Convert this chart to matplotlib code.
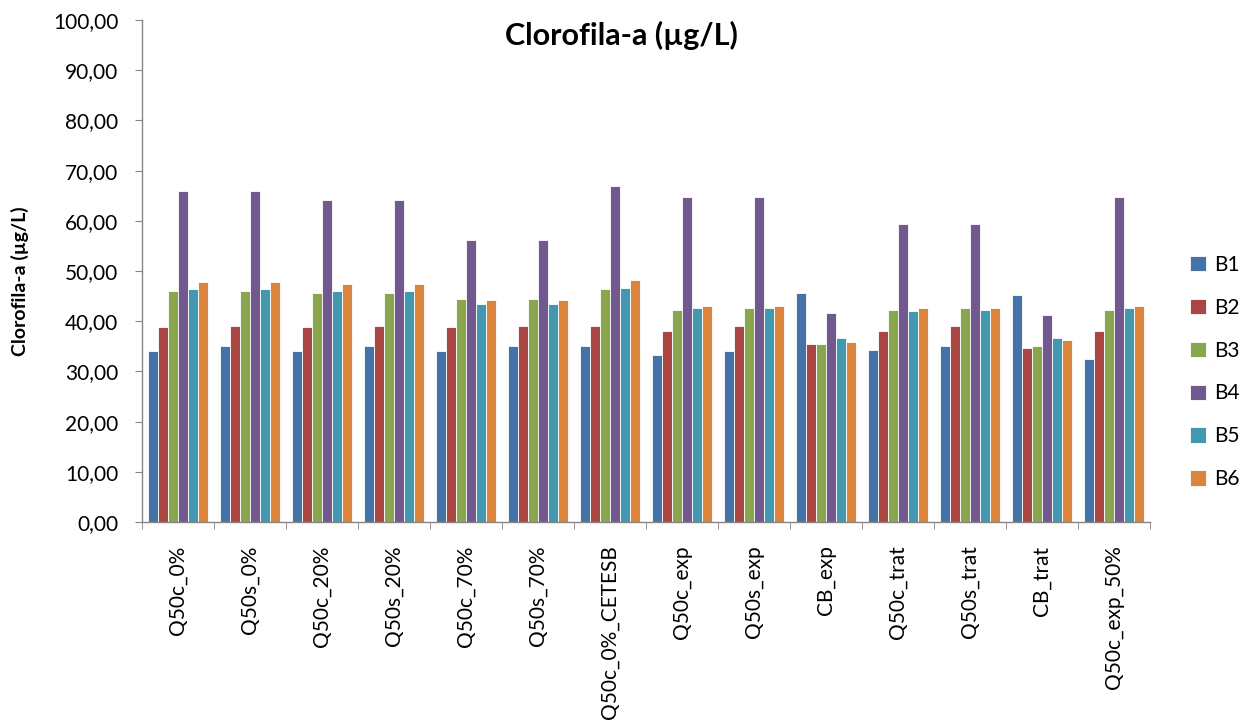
import numpy as np
import matplotlib.pyplot as plt
from matplotlib.ticker import FuncFormatter

plt.rcParams['font.family'] = ['Lato', 'DejaVu Sans']

categories = ['Q50c_0%', 'Q50s_0%', 'Q50c_20%', 'Q50s_20%', 'Q50c_70%', 'Q50s_70%',
              'Q50c_0%_CETESB', 'Q50c_exp', 'Q50s_exp', 'CB_exp', 'Q50c_trat',
              'Q50s_trat', 'CB_trat', 'Q50c_exp_50%']

b1 = [34.0, 35.1, 34.0, 35.1, 34.0, 35.1, 35.1, 33.3, 34.0, 45.6, 34.3, 35.1, 45.2, 32.5]
b2 = [38.8, 39.1, 38.8, 39.1, 38.8, 39.1, 39.1, 38.0, 39.1, 35.5, 38.0, 39.1, 34.7, 38.0]
b3 = [46.0, 46.0, 45.6, 45.6, 44.5, 44.5, 46.4, 42.3, 42.7, 35.5, 42.3, 42.7, 35.1, 42.3]
b4 = [65.9, 65.9, 64.1, 64.1, 56.1, 56.1, 67.0, 64.8, 64.8, 41.7, 59.4, 59.4, 41.3, 64.8]
b5 = [46.4, 46.4, 46.0, 46.0, 43.5, 43.5, 46.7, 42.7, 42.7, 36.6, 42.0, 42.3, 36.6, 42.7]
b6 = [47.8, 47.8, 47.4, 47.4, 44.2, 44.2, 48.2, 43.1, 43.1, 35.9, 42.7, 42.7, 36.2, 43.1]

series = {'B1': b1, 'B2': b2, 'B3': b3, 'B4': b4, 'B5': b5, 'B6': b6}
colors = ['#4572A7', '#AA4643', '#89A54E', '#71588F', '#4198AF', '#DB843D']

fig = plt.figure(figsize=(12.45, 7.21), dpi=100)
ax = fig.add_axes([142 / 1245, 1 - 522 / 721, (1150 - 142) / 1245, 502 / 721])

x = np.arange(len(categories))
n = len(series)
group_w = 0.82
w = group_w / n
for i, (name, vals) in enumerate(series.items()):
    ax.bar(x - group_w / 2 + w * (i + 0.5), vals, width=w, color=colors[i],
           edgecolor='white', linewidth=0.6, label=name, zorder=2)

ax.set_xlim(-0.5, len(categories) - 0.5)
ax.set_ylim(0, 100)
ax.set_yticks(np.arange(0, 101, 10))
ax.yaxis.set_major_formatter(FuncFormatter(lambda v, p: f'{v:.2f}'.replace('.', ',')))
ax.tick_params(axis='y', labelsize=15, length=5, color='#868686', direction='out', pad=12)

ax.set_xticks(x)
ax.set_xticklabels(categories, rotation=90, fontsize=15)
ax.set_xticks(np.arange(-0.5, len(categories), 1), minor=True)
ax.tick_params(axis='x', which='major', length=0, pad=17)
ax.tick_params(axis='x', which='minor', length=5, color='#868686')

for s in ['top', 'right']:
    ax.spines[s].set_visible(False)
for s in ['left', 'bottom']:
    ax.spines[s].set_color('#868686')
    ax.spines[s].set_linewidth(1.0)

fig.text(20 / 1245, 1 - 281 / 721, 'Clorofila-a (µg/L)', fontsize=14, fontweight='bold',
         rotation=90, ha='center', va='center')
fig.text(621 / 1245, 1 - 35 / 721, 'Clorofila-a (µg/L)', fontsize=22, fontweight='bold',
         ha='center', va='center')

ax.legend(loc='center left', bbox_to_anchor=(1182 / 1245, 1 - 372 / 721),
          bbox_transform=fig.transFigure, frameon=False, fontsize=15,
          borderaxespad=0, handlelength=0.75, handleheight=0.75, labelspacing=1.1,
          handletextpad=0.4)

fig.savefig('out.png', dpi=100)
